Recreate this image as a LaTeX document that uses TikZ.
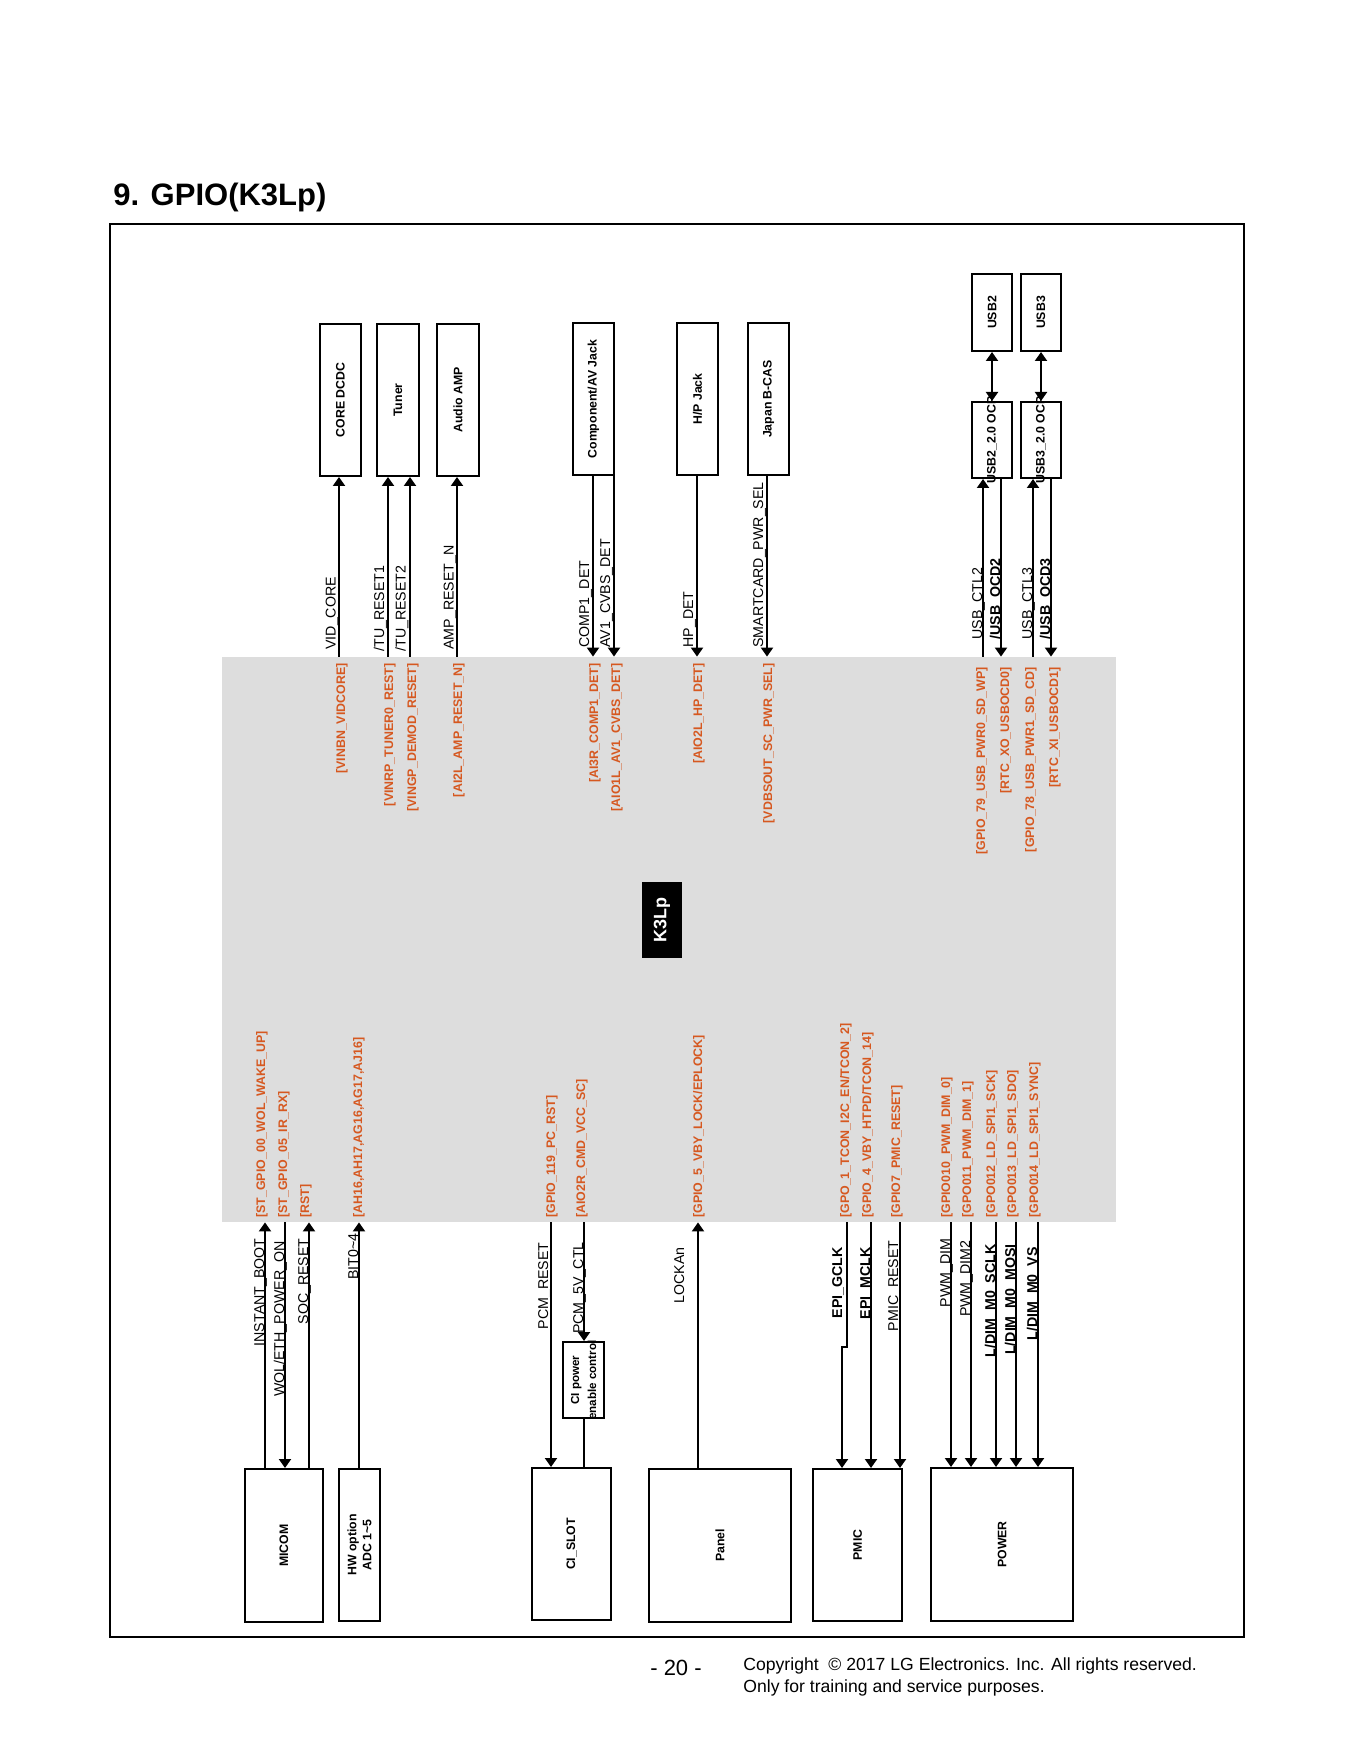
\documentclass[tikz,border=0pt]{standalone}
\usepackage{fontspec}
\setmainfont{Liberation Sans}
\usetikzlibrary{arrows.meta,fit}
\definecolor{pinc}{RGB}{214,88,32}
\definecolor{socgray}{RGB}{221,221,221}
\begin{document}
\begin{tikzpicture}[x=0.5pt,y=-0.5pt,
  blk/.style={draw, line width=1pt, inner sep=0pt},
  blktxt/.style={rotate=90, font=\bfseries\fontsize{6.15pt}{7.5pt}\selectfont, align=center, inner sep=0pt},
  sig/.style={rotate=90, font=\fontsize{7.1pt}{8pt}\selectfont, inner sep=0pt},
  sigb/.style={rotate=90, font=\bfseries\fontsize{7.1pt}{8pt}\selectfont, inner sep=0pt},
  pinlab/.style={rotate=90, text=pinc, font=\bfseries\fontsize{6.2pt}{7pt}\selectfont, inner sep=0pt},
  arr/.style={line width=1pt, -{Triangle[length=4.5pt,width=6pt]}},
  darr/.style={line width=1pt, {Triangle[length=4.5pt,width=6pt]}-{Triangle[length=4.5pt,width=6pt]}},
  wire/.style={line width=1pt}]
\useasboundingbox (0,0) rectangle (1355,1764);
% title and frame
\node[anchor=west, font=\bfseries\fontsize{15.5pt}{18pt}\selectfont, inner sep=0pt] (title) at (113,197) {9. GPIO(K3Lp)};
\node[draw, line width=0.6pt, inner sep=0pt, fit={(110,224) (1244,1637)}] (frame) {};
% SoC area
\node[fill=socgray, inner sep=0pt, fit={(222,657) (1116,1222)}] (soc) {};
\node[fill=black, inner sep=0pt, fit={(642,882) (682,958)}] (k3) {};
\node[rotate=90, text=white, font=\bfseries\fontsize{9pt}{10pt}\selectfont] at (k3.center) {K3Lp};
% top blocks
\node[blk, fit={(320,324) (361,476)}] (core) {};
\node[blktxt] at (core.center) {CORE DCDC};
\node[blk, fit={(377,324) (419,476)}] (tuner) {};
\node[blktxt] at (tuner.center) {Tuner};
\node[blk, fit={(437,324) (479,476)}] (amp) {};
\node[blktxt] at (amp.center) {Audio AMP};
\node[blk, fit={(573,323) (614,475)}] (comp) {};
\node[blktxt] at (comp.center) {Component/AV Jack};
\node[blk, fit={(677,323) (718,475)}] (hp) {};
\node[blktxt] at (hp.center) {H/P Jack};
\node[blk, fit={(748,323) (789,475)}] (bcas) {};
\node[blktxt] at (bcas.center) {Japan B-CAS};
\node[blk, fit={(972,274) (1012,351)}] (usb2) {};
\node[blktxt] at (usb2.center) {USB2};
\node[blk, fit={(1021,274) (1061,351)}] (usb3) {};
\node[blktxt] at (usb3.center) {USB3};
\node[blk, fit={(972,402) (1012,478)}] (ocp2) {};
\node[blktxt] at (ocp2.center) {USB2\_2.0 OCP};
\node[blk, fit={(1021,402) (1061,478)}] (ocp3) {};
\node[blktxt] at (ocp3.center) {USB3\_2.0 OCP};
% bottom blocks
\node[blk, fit={(245,1469) (323,1622)}] (micom) {};
\node[blktxt] at (micom.center) {MICOM};
\node[blk, fit={(339,1469) (380,1621)}] (hw) {};
\node[blktxt] at (hw.center) {HW option\\ADC 1\textasciitilde5};
\node[blk, fit={(563,1342) (604,1418)}] (cipow) {};
\node[blktxt, font=\bfseries\fontsize{5.8pt}{8.5pt}\selectfont] at (cipow.center) {CI power\\enable control};
\node[blk, fit={(532,1468) (611,1620)}] (cislot) {};
\node[blktxt] at (cislot.center) {CI\_SLOT};
\node[blk, fit={(649,1469) (791,1622)}] (panel) {};
\node[blktxt] at (panel.center) {Panel};
\node[blk, fit={(813,1469) (902,1621)}] (pmic) {};
\node[blktxt] at (pmic.center) {PMIC};
\node[blk, fit={(931,1468) (1073,1621)}] (power) {};
\node[blktxt] at (power.center) {POWER};
% top signal columns
\coordinate (c1) at (339,0);
\coordinate (c2) at (388,0);
\coordinate (c3) at (410,0);
\coordinate (c4) at (457,0);
\coordinate (c5) at (593,0);
\coordinate (c6) at (614,0);
\coordinate (c7) at (697,0);
\coordinate (c8) at (767,0);
\coordinate (c9) at (983,0);
\coordinate (c10) at (1001,0);
\coordinate (c11) at (1033,0);
\coordinate (c12) at (1051,0);
\coordinate (c13) at (992,0);
\coordinate (c14) at (1041,0);
\draw[arr] (c1 |- soc.north) -- (c1 |- core.south);
\draw[arr] (c2 |- soc.north) -- (c2 |- tuner.south);
\draw[arr] (c3 |- soc.north) -- (c3 |- tuner.south);
\draw[arr] (c4 |- soc.north) -- (c4 |- amp.south);
\draw[arr] (c5 |- comp.south) -- (c5 |- soc.north);
\draw[arr] (c6 |- comp.south) -- (c6 |- soc.north);
\draw[arr] (c7 |- hp.south) -- (c7 |- soc.north);
\draw[arr] (c8 |- bcas.south) -- (c8 |- soc.north);
\draw[arr] (c9 |- soc.north) -- (c9 |- ocp2.south);
\draw[arr] (c10 |- ocp2.south) -- (c10 |- soc.north);
\draw[arr] (c11 |- soc.north) -- (c11 |- ocp3.south);
\draw[arr] (c12 |- ocp3.south) -- (c12 |- soc.north);
\draw[darr] (c13 |- ocp2.north) -- (c13 |- usb2.south);
\draw[darr] (c14 |- ocp3.north) -- (c14 |- usb3.south);
% top signal names
\node[sig, anchor=base west] at (335.5,650) {VID\_CORE};
\node[sig, anchor=base west] at (384,652) {/TU\_RESET1};
\node[sig, anchor=base west] at (405.5,652) {/TU\_RESET2};
\node[sig, anchor=base west] at (453.5,650) {AMP\_RESET\_N};
\node[sig, anchor=base west] at (589,648) {COMP1\_DET};
\node[sig, anchor=base west] at (610,648) {AV1\_CVBS\_DET};
\node[sig, anchor=base west] at (693,648) {HP\_DET};
\node[sig, anchor=base west] at (763,648) {SMARTCARD\_PWR\_SEL};
\node[sig, anchor=base west] at (982,640) {USB\_CTL2};
\node[sigb, anchor=base west] at (1000,640) {/USB\_OCD2};
\node[sig, anchor=base west] at (1032,640) {USB\_CTL3};
\node[sigb, anchor=base west] at (1050,640) {/USB\_OCD3};
% top pin names
\node[pinlab, anchor=east] at (342,663) {[VINBN\_VIDCORE]};
\node[pinlab, anchor=east] at (390,663) {[VINRP\_TUNER0\_REST]};
\node[pinlab, anchor=east] at (413,663) {[VINGP\_DEMOD\_RESET]};
\node[pinlab, anchor=east] at (459,663) {[AI2L\_AMP\_RESET\_N]};
\node[pinlab, anchor=east] at (595,663) {[AI3R\_COMP1\_DET]};
\node[pinlab, anchor=east] at (617,663) {[AIO1L\_AV1\_CVBS\_DET]};
\node[pinlab, anchor=east] at (699,663) {[AIO2L\_HP\_DET]};
\node[pinlab, anchor=east] at (769,663) {[VDBSOUT\_SC\_PWR\_SEL]};
\node[pinlab, anchor=east] at (982,667) {[GPIO\_79\_USB\_PWR0\_SD\_WP]};
\node[pinlab, anchor=east] at (1006,667) {[RTC\_XO\_USBOCD0]};
\node[pinlab, anchor=east] at (1031,667) {[GPIO\_78\_USB\_PWR1\_SD\_CD]};
\node[pinlab, anchor=east] at (1055,667) {[RTC\_XI\_USBOCD1]};
% bottom signal columns
\coordinate (d1) at (265,0);
\coordinate (d2) at (285,0);
\coordinate (d3) at (309,0);
\coordinate (d4) at (359,0);
\coordinate (d5) at (551,0);
\coordinate (d6) at (584,0);
\coordinate (d7) at (698,0);
\coordinate (d8) at (847,0);
\coordinate (j1) at (847,1347);
\coordinate (j2) at (842,1347);
\coordinate (d9) at (871,0);
\coordinate (d10) at (900,0);
\coordinate (d11) at (951,0);
\coordinate (d12) at (971,0);
\coordinate (d13) at (996,0);
\coordinate (d14) at (1016,0);
\coordinate (d15) at (1038,0);
\draw[arr] (d1 |- micom.north) -- (d1 |- soc.south);
\draw[arr] (d2 |- soc.south) -- (d2 |- micom.north);
\draw[arr] (d3 |- micom.north) -- (d3 |- soc.south);
\draw[arr] (d4 |- hw.north) -- (d4 |- soc.south);
\draw[arr] (d5 |- soc.south) -- (d5 |- cislot.north);
\draw[arr] (d6 |- soc.south) -- (d6 |- cipow.north);
\draw[wire] (d6 |- cipow.south) -- (d6 |- cislot.north);
\draw[arr] (d7 |- panel.north) -- (d7 |- soc.south);
\draw[arr] (d8 |- soc.south) -- (j1) -- (j2) -- (j2 |- pmic.north);
\draw[arr] (d9 |- soc.south) -- (d9 |- pmic.north);
\draw[arr] (d10 |- soc.south) -- (d10 |- pmic.north);
\draw[arr] (d11 |- soc.south) -- (d11 |- power.north);
\draw[arr] (d12 |- soc.south) -- (d12 |- power.north);
\draw[arr] (d13 |- soc.south) -- (d13 |- power.north);
\draw[arr] (d14 |- soc.south) -- (d14 |- power.north);
\draw[arr] (d15 |- soc.south) -- (d15 |- power.north);
% bottom signal names
\node[sig, anchor=base east] at (264,1238) {INSTANT\_BOOT};
\node[sig, anchor=base east] at (284,1241) {WOL/ETH\_POWER\_ON};
\node[sig, anchor=base east] at (308,1238) {SOC\_RESET};
\node[sig, anchor=base east] at (358,1233) {BIT0\textasciitilde4};
\node[sig, anchor=base east] at (548,1242) {PCM\_RESET};
\node[sig, anchor=base east] at (583,1242) {PCM\_5V\_CTL};
\node[sig, anchor=base east] at (684,1247) {LOCKAn};
\node[sigb, anchor=base east] at (842,1247) {EPI\_GCLK};
\node[sigb, anchor=base east] at (870,1247) {EPI\_MCLK};
\node[sig, anchor=base east] at (898,1240) {PMIC\_RESET};
\node[sig, anchor=base east] at (950,1238) {PWM\_DIM};
\node[sig, anchor=base east] at (970,1240) {PWM\_DIM2};
\node[sigb, anchor=base east] at (995,1244) {L/DIM\_M0\_SCLK};
\node[sigb, anchor=base east] at (1015,1244) {L/DIM\_M0\_MOSI};
\node[sigb, anchor=base east] at (1037,1247) {L/DIM\_M0\_VS};
% bottom pin names
\node[pinlab, anchor=west] at (262,1218) {[ST\_GPIO\_00\_WOL\_WAKE\_UP]};
\node[pinlab, anchor=west] at (284,1218) {[ST\_GPIO\_05\_IR\_RX]};
\node[pinlab, anchor=west] at (306,1218) {[RST]};
\node[pinlab, anchor=west] at (359,1218) {[AH16,AH17,AG16,AG17,AJ16]};
\node[pinlab, anchor=west] at (552,1218) {[GPIO\_119\_PC\_RST]};
\node[pinlab, anchor=west] at (582,1218) {[AIO2R\_CMD\_VCC\_SC]};
\node[pinlab, anchor=west] at (699,1218) {[GPIO\_5\_VBY\_LOCK/EPLOCK]};
\node[pinlab, anchor=west] at (846,1218) {[GPO\_1\_TCON\_I2C\_EN/TCON\_2]};
\node[pinlab, anchor=west] at (868,1218) {[GPIO\_4\_VBY\_HTPD/TCON\_14]};
\node[pinlab, anchor=west] at (897,1218) {[GPIO7\_PMIC\_RESET]};
\node[pinlab, anchor=west] at (947,1218) {[GPIO010\_PWM\_DIM\_0]};
\node[pinlab, anchor=west] at (968,1218) {[GPO011\_PWM\_DIM\_1]};
\node[pinlab, anchor=west] at (992,1218) {[GPO012\_LD\_SPI1\_SCK]};
\node[pinlab, anchor=west] at (1013,1218) {[GPO013\_LD\_SPI1\_SDO]};
\node[pinlab, anchor=west] at (1035,1218) {[GPO014\_LD\_SPI1\_SYNC]};
% footer
\node[font=\fontsize{11pt}{13pt}\selectfont, inner sep=0pt] (page) at (676,1668) {- 20 -};
\node[anchor=west, font=\fontsize{8.8pt}{11pt}\selectfont, inner sep=0pt] (copy1) at (743,1666) {Copyright \ \textcopyright\ 2017 LG Electronics. Inc. All rights reserved.};
\node[anchor=west, font=\fontsize{8.8pt}{11pt}\selectfont, inner sep=0pt] (copy2) at (743,1688) {Only for training and service purposes.};
\end{tikzpicture}
\end{document}
